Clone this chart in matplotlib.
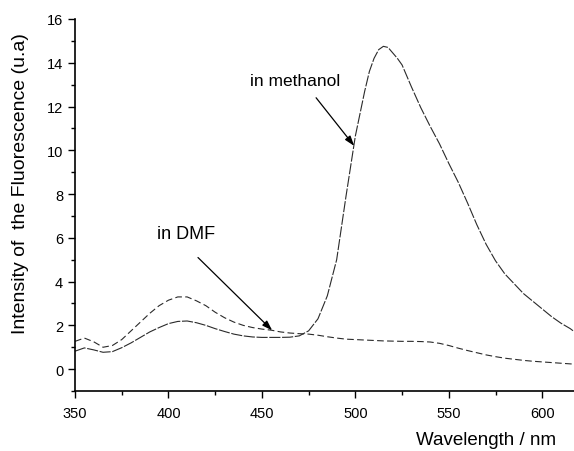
import matplotlib

matplotlib.use("Agg")
import matplotlib.pyplot as plt
from matplotlib.ticker import MultipleLocator

plt.rcParams["font.family"] = ["Liberation Sans", "DejaVu Sans"]

# wavelength grid (nm)
wavelength = [350, 355, 360, 365, 370, 375, 380, 385, 390, 395, 400, 405, 410,
              415, 420, 425, 430, 435, 440, 445, 450, 455, 460, 465, 470, 475,
              480, 485, 490, 495, 500, 505, 507.5, 510, 512.5, 515, 517.5, 520,
              522.5, 525, 530, 535, 540, 545, 550, 555, 560, 565, 570, 575, 580,
              585, 590, 595, 600, 605, 610, 615, 617]

# methanol: small band near 410 nm, strong emission at ~515 nm
methanol = [0.82, 0.97, 0.88, 0.77, 0.80, 0.98, 1.20, 1.45, 1.70, 1.90, 2.08,
            2.18, 2.20, 2.12, 2.00, 1.85, 1.72, 1.60, 1.52, 1.47, 1.45, 1.45,
            1.45, 1.46, 1.52, 1.75, 2.30, 3.35, 5.00, 7.90, 10.65, 12.70, 13.60,
            14.20, 14.60, 14.75, 14.70, 14.45, 14.20, 13.90, 12.90, 11.95, 11.10,
            10.30, 9.40, 8.55, 7.60, 6.60, 5.70, 4.95, 4.35, 3.90, 3.45, 3.10,
            2.75, 2.40, 2.10, 1.85, 1.72]

# DMF: band near 408 nm, then slow decay
dmf = [1.27, 1.42, 1.25, 1.00, 1.08, 1.35, 1.75, 2.15, 2.55, 2.90, 3.15, 3.30,
       3.30, 3.12, 2.90, 2.60, 2.35, 2.15, 2.00, 1.90, 1.83, 1.78, 1.70, 1.65,
       1.62, 1.60, 1.55, 1.48, 1.42, 1.37, 1.35, 1.33, 1.32, 1.31, 1.30, 1.29,
       1.285, 1.28, 1.275, 1.27, 1.27, 1.26, 1.24, 1.18, 1.08, 0.96, 0.85, 0.75,
       0.65, 0.57, 0.50, 0.45, 0.40, 0.36, 0.33, 0.30, 0.27, 0.24, 0.23]

fig = plt.figure(figsize=(5.74, 4.52), dpi=100)
ax = fig.add_axes([0.1307, 0.1327, 0.8693, 0.8231])

ax.plot(wavelength, methanol, color="#2a2a2a", lw=0.8, ls=(0, (10, 1.5)))
ax.plot(wavelength, dmf, color="#2a2a2a", lw=0.8, ls=(0, (6, 3)))

ax.set_xlim(350, 617)
ax.set_ylim(-1, 16)
ax.xaxis.set_major_locator(MultipleLocator(50))
ax.xaxis.set_minor_locator(MultipleLocator(25))
ax.yaxis.set_major_locator(MultipleLocator(2))
ax.yaxis.set_minor_locator(MultipleLocator(1))
ax.tick_params(which="major", length=5, width=1, labelsize=10.5, direction="out")
ax.tick_params(which="minor", length=3, width=1, direction="out")
ax.tick_params(axis="x", pad=6)
for side in ("top", "right"):
    ax.spines[side].set_visible(False)
for side in ("left", "bottom"):
    ax.spines[side].set_linewidth(1.2)

ax.set_xlabel("Wavelength / nm", fontsize=13.5, ha="right", va="top")
ax.xaxis.set_label_coords(0.964, -0.108)
ax.set_ylabel("Intensity of  the Fluorescence (u.a)", fontsize=14)
ax.yaxis.set_label_coords(-0.092, 0.56)

arrow = dict(arrowstyle="-|>,head_length=0.6,head_width=0.2", color="black", lw=0.9,
             shrinkA=0, shrinkB=0)
ax.annotate("", xy=(499.4, 10.2), xytext=(479, 12.4), arrowprops=arrow)
ax.annotate("", xy=(455.5, 1.77), xytext=(415.8, 5.1), arrowprops=arrow)
ax.text(443.7, 13.2, "in methanol", fontsize=12.5, va="center", ha="left")
ax.text(393.9, 6.2, "in DMF", fontsize=13, va="center", ha="left")

fig.savefig("out.png", dpi=100)
